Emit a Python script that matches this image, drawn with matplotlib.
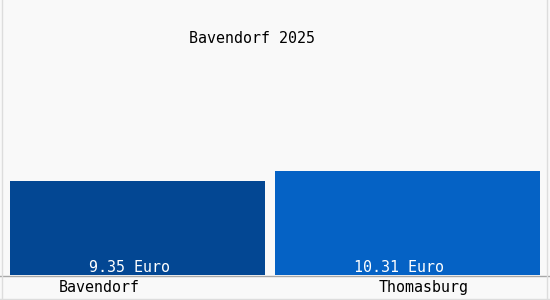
import matplotlib
matplotlib.use("Agg")
import matplotlib.pyplot as plt
from matplotlib.lines import Line2D

categories = ["Bavendorf", "Thomasburg"]
values = [9.35, 10.31]
value_labels = ["9.35 Euro", "10.31 Euro"]
title = "Bavendorf 2025"
colors = ["#034793", "#0562c5"]

W, H = 550, 300
fig = plt.figure(figsize=(W / 100, H / 100), dpi=100, facecolor="#f9f9f9")

# axes: x from 2.5 to 542.5 px, y from 275 (zero) up to 20 px
ax_left, ax_right = 2.5, 542.5
ax_bottom, ax_top = 275, 20
ax = fig.add_axes([ax_left / W, 1 - ax_bottom / H, (ax_right - ax_left) / W, (ax_bottom - ax_top) / H])
ax.set_facecolor("none")
ppu = 10.05  # pixels per unit
ax.set_xlim(-0.5, 1.5)
ax.set_ylim(0, (ax_bottom - ax_top) / ppu)
for s in ax.spines.values():
    s.set_visible(False)
ax.set_xticks([])
ax.set_yticks([])

x = list(range(len(categories)))
ax.bar(x, values, width=[0.944, 0.981], color=colors, zorder=2)

font = dict(family="DejaVu Sans Mono", fontsize=10.8)
for i, lab in enumerate(value_labels):
    ax.text(i - 0.03, -0.03, lab, ha="center", va="bottom", color="white", zorder=3, **font)

label_offsets = [-0.14, 0.06]
for i, cat in enumerate(categories):
    ax.text(i + label_offsets[i], -1.2, cat, ha="center", va="center", color="black",
            clip_on=False, **font)

fig.text(252 / W, 1 - 38.5 / H, title, ha="center", va="center", color="black", **font)

# frame and baseline
fig.add_artist(Line2D([0, 1], [1 - 275.5 / H] * 2, color="#a8a8a8", lw=1))
fig.add_artist(Line2D([1.5 / W] * 2, [0, 1], color="#dddddd", lw=1))
fig.add_artist(Line2D([546.5 / W] * 2, [0, 1], color="#dddddd", lw=1))
fig.add_artist(Line2D([0, 1], [1 - 298.5 / H] * 2, color="#dddddd", lw=1))

fig.savefig("out.png", dpi=100, facecolor=fig.get_facecolor())
